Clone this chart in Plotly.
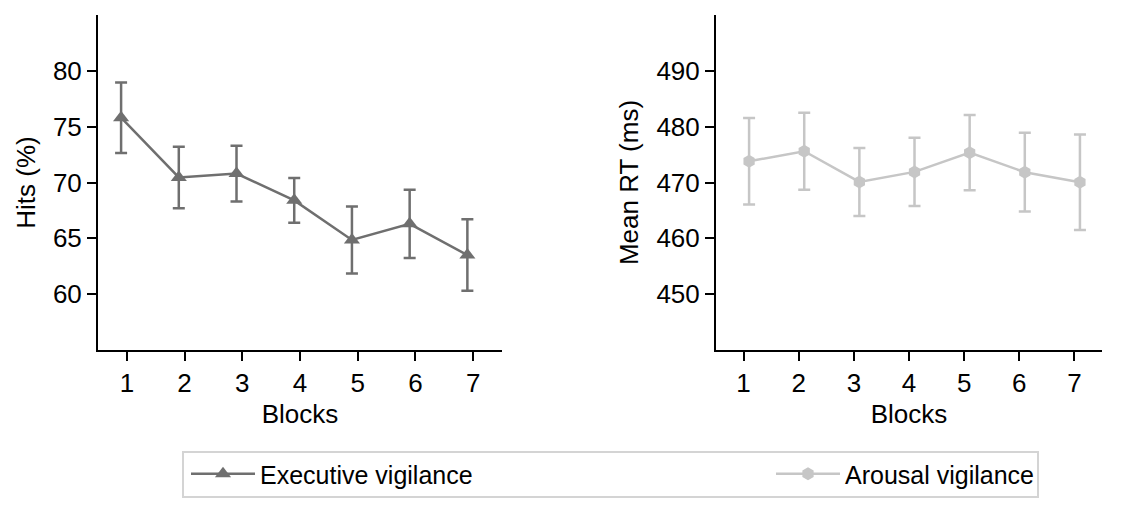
import plotly.graph_objects as go

blocks = [1, 2, 3, 4, 5, 6, 7]
hits_mean = [75.8, 70.45, 70.8, 68.4, 64.85, 66.3, 63.5]
hits_err = [3.15, 2.75, 2.5, 2.0, 3.0, 3.05, 3.2]
rt_mean = [473.8, 475.6, 470.1, 471.9, 475.35, 471.85, 470.05]
rt_err = [7.75, 6.9, 6.1, 6.1, 6.75, 7.05, 8.55]

DODGE = 0.1
EXEC_COLOR = "#6f6f6f"
AROUSAL_COLOR = "#c6c6c6"
FONT = "Liberation Sans, Arial, sans-serif"
FS = 26
LFS = 25
W, H = 1145, 507

fig = go.Figure()
fig.add_trace(go.Scatter(
    x=[b - DODGE for b in blocks], y=hits_mean, mode="lines+markers",
    name="Executive vigilance", legend="legend",
    line=dict(color=EXEC_COLOR, width=2.5),
    marker=dict(symbol="triangle-up", size=14, color=EXEC_COLOR),
    error_y=dict(type="data", array=hits_err, color=EXEC_COLOR, thickness=2.5, width=6),
    xaxis="x", yaxis="y",
))
fig.add_trace(go.Scatter(
    x=[b + DODGE for b in blocks], y=rt_mean, mode="lines+markers",
    name="Arousal vigilance", legend="legend2",
    line=dict(color=AROUSAL_COLOR, width=2.5),
    marker=dict(symbol="hexagon", size=13, color=AROUSAL_COLOR),
    error_y=dict(type="data", array=rt_err, color=AROUSAL_COLOR, thickness=2.5, width=6),
    xaxis="x2", yaxis="y2",
))

axis_common = dict(
    showline=True, linecolor="black", linewidth=2, mirror=False,
    showgrid=False, zeroline=False,
    ticks="outside", ticklen=9, tickwidth=2, tickcolor="black",
    tickfont=dict(family=FONT, size=FS, color="black"),
    automargin=False,
)
ydom = [1 - 350 / H, 1 - 15 / H]

legend_common = dict(
    orientation="h", yanchor="middle", y=1 - 474 / H, xanchor="left",
    bgcolor="rgba(0,0,0,0)", borderwidth=0,
    font=dict(family=FONT, size=LFS, color="black"),
    itemwidth=64,
)

fig.update_layout(
    width=W, height=H,
    margin=dict(l=0, r=0, t=0, b=0, autoexpand=False),
    paper_bgcolor="white", plot_bgcolor="white",
    font=dict(family=FONT, size=FS, color="black"),
    xaxis=dict(domain=[98 / W, 502 / W], range=[0.5, 7.5], tickvals=blocks,
               title=dict(text="Blocks", standoff=8, font=dict(size=FS)), anchor="y",
               **axis_common),
    yaxis=dict(domain=ydom, range=[55, 85], tickvals=[60, 65, 70, 75, 80],
               title=dict(text="Hits (%)", standoff=10, font=dict(size=FS)), anchor="x", **axis_common),
    xaxis2=dict(domain=[716 / W, 1102 / W], range=[0.5, 7.5], tickvals=blocks,
                title=dict(text="Blocks", standoff=8, font=dict(size=FS)), anchor="y2",
                **axis_common),
    yaxis2=dict(domain=ydom, range=[440, 500], tickvals=[450, 460, 470, 480, 490],
                title=dict(text="Mean RT (ms)", standoff=10, font=dict(size=FS)), anchor="x2", **axis_common),
    showlegend=True,
    legend=dict(x=186 / W, **legend_common),
    legend2=dict(x=771 / W, **legend_common),
    shapes=[dict(type="rect", xref="paper", yref="paper",
                 x0=183 / W, x1=1038 / W, y0=1 - 497 / H, y1=1 - 452 / H,
                 line=dict(color="#d4d4d4", width=2), fillcolor="rgba(0,0,0,0)", layer="below")],
)

fig.write_html(
    "out.html",
    config={"displayModeBar": False},
    post_script="document.body.style.margin='0px';document.body.style.overflow='hidden';",
)
